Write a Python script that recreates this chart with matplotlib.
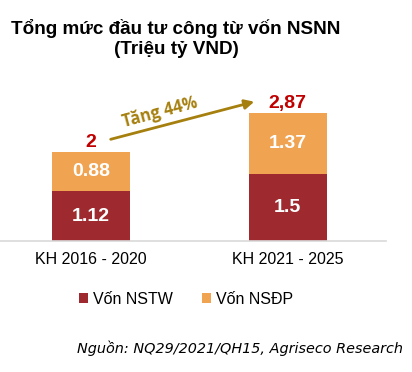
import matplotlib.pyplot as plt

# Data
categories = ["KH 2016 - 2020", "KH 2021 - 2025"]
nstw = [1.12, 1.5]
nsdp = [0.88, 1.37]
totals = ["2", "2,87"]
growth_label = "Tăng 44%"
legend_labels = ["Vốn NSTW", "Vốn NSĐP"]

c_nstw = "#9E2A2F"
c_nsdp = "#F0A452"

plt.rcParams['font.family'] = ['Liberation Sans', 'DejaVu Sans']

fig = plt.figure(figsize=(4.12, 3.72), dpi=100)
ax = fig.add_axes([0, 131 / 372, 386 / 412, 181 / 372])

x = list(range(len(categories)))
width = 0.397
b1 = ax.bar(x, nstw, width, color=c_nstw, label=legend_labels[0])
b2 = ax.bar(x, nsdp, width, bottom=nstw, color=c_nsdp, label=legend_labels[1])

# white labels inside segments, red totals on top
for i in x:
    ax.text(i, nstw[i] / 2, f"{nstw[i]:g}", ha='center', va='center',
            color='white', fontsize=14, fontweight='bold')
    ax.text(i, nstw[i] + nsdp[i] / 2, f"{nsdp[i]:g}", ha='center', va='center',
            color='white', fontsize=14, fontweight='bold')
    ax.text(i, nstw[i] + nsdp[i] + 0.03, totals[i], ha='center', va='bottom',
            color='#C00000', fontsize=14, fontweight='bold')

ax.set_xlim(-0.463, 1.501)
ax.set_ylim(0, 4.07)
for s in ['top', 'right', 'left']:
    ax.spines[s].set_visible(False)
ax.spines['bottom'].set_color('#D9D9D9')
ax.spines['bottom'].set_linewidth(1.2)
ax.set_yticks([])
ax.set_xticks(x)
ax.set_xticklabels(categories, fontsize=11.5)
ax.tick_params(axis='x', length=0, pad=8)

# growth arrow (figure pixel coords)
ax.annotate("", xy=(257 / 412, 1 - 101 / 372), xytext=(108 / 412, 1 - 140 / 372),
            xycoords='figure fraction', textcoords='figure fraction',
            arrowprops=dict(arrowstyle='-|>', color='#A6800F', lw=2, mutation_scale=14))
fig.text(160 / 412, 1 - 112 / 372, growth_label, ha='center', va='center',
         rotation=15, color='#A6800F', fontsize=12, fontweight='bold',
         family=['Open Sans', 'DejaVu Sans'])

# title
fig.text(176 / 412, 1 - 28 / 372, "Tổng mức đầu tư công từ vốn NSNN",
         ha='center', va='center', fontsize=13.6, fontweight='bold')
fig.text(176 / 412, 1 - 49 / 372, "(Triệu tỷ VND)",
         ha='center', va='center', fontsize=13.6, fontweight='bold')

# legend
fig.legend(handles=[b1, b2], labels=legend_labels, loc='center',
           bbox_to_anchor=(186 / 412, 1 - 299 / 372), ncol=2, frameon=False,
           fontsize=11.5, handlelength=0.6, handleheight=0.6, handletextpad=0.3,
           columnspacing=1.8)

fig.text(403 / 412, 1 - 348 / 372, "Nguồn: NQ29/2021/QH15, Agriseco Research",
         ha='right', va='center', fontsize=10.4, style='italic',
         family=['DejaVu Sans'])

fig.savefig("out.png", dpi=100)
